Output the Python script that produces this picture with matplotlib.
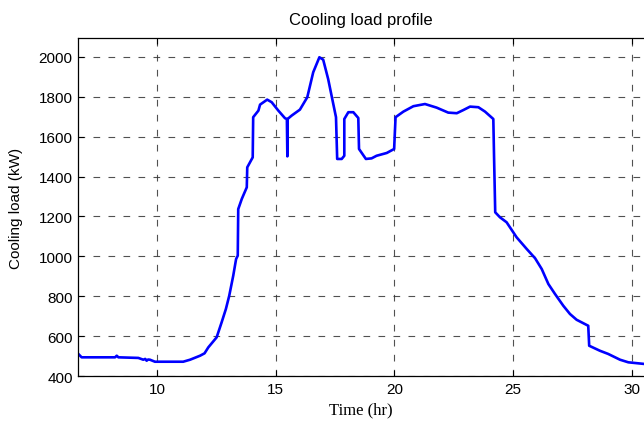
import numpy as np
import matplotlib
matplotlib.use("Agg")
import matplotlib.pyplot as plt

# cooling load profile (time in hours, load in kW)
time_hr = [6.68, 6.82, 8.23, 8.30, 8.37, 9.21, 9.42, 9.50, 9.56, 9.62, 9.70, 9.91,
           11.10, 11.39, 11.81, 12.00, 12.16, 12.51, 12.72, 12.90, 13.04, 13.21,
           13.33, 13.40, 13.42, 13.57, 13.78, 13.80, 14.03, 14.05, 14.27, 14.34,
           14.64, 14.83, 15.11, 15.39, 15.47, 15.49, 15.50, 15.67, 16.02, 16.33,
           16.58, 16.84, 17.00, 17.21, 17.54, 17.59, 17.78, 17.89, 17.89, 18.06,
           18.27, 18.48, 18.51, 18.80, 19.04, 19.25, 19.68, 19.99, 20.05, 20.38,
           20.80, 21.29, 21.78, 22.27, 22.63, 22.91, 23.19, 23.54, 23.82, 24.17,
           24.20, 24.25, 24.45, 24.73, 25.15, 25.58, 25.93, 26.21, 26.49, 26.77,
           27.12, 27.40, 27.68, 28.17, 28.21, 28.66, 29.01, 29.51, 29.86, 30.52]
load_kw = [512, 495, 495, 503, 495, 492, 483, 487, 478, 484, 483, 473,
           473, 483, 503, 515, 545, 595, 670, 737, 803, 904,
           987, 1004, 1237, 1288, 1346, 1446, 1496, 1697, 1730, 1760,
           1785, 1772, 1730, 1692, 1688, 1501, 1688, 1705, 1735, 1797,
           1922, 1997, 1985, 1888, 1697, 1488, 1488, 1504, 1688, 1722,
           1722, 1693, 1538, 1488, 1491, 1504, 1518, 1538, 1697, 1725,
           1752, 1763, 1745, 1720, 1717, 1733, 1750, 1747, 1725, 1688,
           1504, 1221, 1196, 1171, 1096, 1037, 991, 937, 862, 812,
           753, 712, 683, 653, 553, 528, 512, 483, 470, 462]

x_ticks = [10, 15, 20, 25, 30]
y_ticks = list(range(400, 2001, 200))

plt.rcParams['font.family'] = ['Liberation Sans', 'DejaVu Sans']
plt.rcParams['font.size'] = 11

fig = plt.figure(figsize=(6.44, 4.27), dpi=100)
ax = fig.add_axes([78.3 / 644, 49.7 / 427, (644 - 78.3) / 644, 338.0 / 427])

ax.plot(time_hr, load_kw, color='#0000ff', linewidth=1.9)

ax.set_xlim(6.68, 30.52)
ax.set_ylim(400, 2092)
ax.set_xticks(x_ticks)
ax.set_yticks(y_ticks)
ax.grid(True, color='#333333', linestyle=(0, (6, 7.5)), linewidth=0.8, alpha=0.85)
ax.tick_params(direction='in', length=4, width=0.8, top=True, right=False,
               pad=4, labelsize=11)
ax.spines['right'].set_visible(False)
for s in ['left', 'bottom', 'top']:
    ax.spines[s].set_linewidth(0.9)

ax.set_title('Cooling load profile', fontsize=12, pad=10)
ax.set_ylabel('Cooling load (kW)', fontsize=11)
ax.yaxis.set_label_coords(-0.098, 0.5)
ax.set_xlabel('Time (hr)', fontsize=12, family=['Liberation Serif', 'DejaVu Serif'])

fig.savefig('out.png', dpi=100)
